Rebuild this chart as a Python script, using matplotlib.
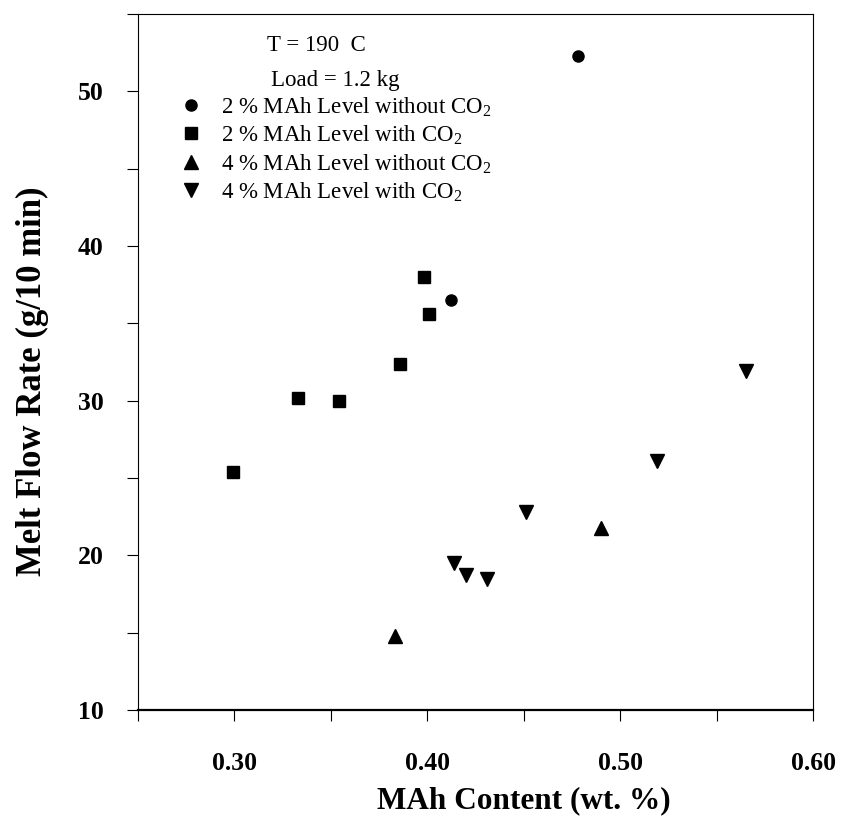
import numpy as np
import matplotlib
matplotlib.use("Agg")
import matplotlib.pyplot as plt
from matplotlib.ticker import MultipleLocator

plt.rcParams["font.family"] = ["Liberation Serif", "DejaVu Serif"]
plt.rcParams["mathtext.fontset"] = "custom"
plt.rcParams["mathtext.rm"] = "Liberation Serif"

# 2 % MAh level without CO2
mah_2_no_co2 = [0.412, 0.478]
mfr_2_no_co2 = [36.5, 52.3]

# 2 % MAh level with CO2
mah_2_co2 = [0.299, 0.333, 0.354, 0.386, 0.398, 0.401]
mfr_2_co2 = [25.4, 30.2, 30.0, 32.4, 38.0, 35.6]

# 4 % MAh level without CO2
mah_4_no_co2 = [0.383, 0.490]
mfr_4_no_co2 = [14.8, 21.8]

# 4 % MAh level with CO2
mah_4_co2 = [0.414, 0.420, 0.431, 0.451, 0.519, 0.565]
mfr_4_co2 = [19.5, 18.7, 18.5, 22.8, 26.1, 31.9]

labels = ["2 % MAh Level without CO$_\\mathrm{2}$",
          "2 % MAh Level with CO$_\\mathrm{2}$",
          "4 % MAh Level without CO$_\\mathrm{2}$",
          "4 % MAh Level with CO$_\\mathrm{2}$"]

x_ticks = [0.30, 0.40, 0.50, 0.60]
y_ticks = [10, 20, 30, 40, 50]

fig = plt.figure(figsize=(8.47, 8.19), dpi=100)
ax = fig.add_axes([0.163, 0.133, 0.797, 0.850])

ax.plot(mah_2_no_co2, mfr_2_no_co2, "o", color="black", ms=8, label=labels[0])
ax.plot(mah_2_co2, mfr_2_co2, "s", color="black", ms=8, label=labels[1])
ax.plot(mah_4_no_co2, mfr_4_no_co2, "^", color="black", ms=9.5, label=labels[2])
ax.plot(mah_4_co2, mfr_4_co2, "v", color="black", ms=9.5, label=labels[3])

ax.set_xlim(0.25, 0.60)
ax.set_ylim(10, 55)

# labelled ticks every 0.1 / 10, plain ticks in between
ax.xaxis.set_minor_locator(MultipleLocator(0.05))
ax.yaxis.set_minor_locator(MultipleLocator(5))
ax.set_xticks(x_ticks)
ax.set_xticklabels([f"{v:.2f}" for v in x_ticks])
ax.set_yticks(y_ticks)
ax.set_yticklabels([str(v) for v in y_ticks])

ax.tick_params(which="both", direction="out", length=8, width=0.8, top=False, right=False)
ax.tick_params(axis="x", which="major", pad=22, labelsize=18.5)
ax.tick_params(axis="y", which="major", pad=17, labelsize=18.5)
for lab in ax.get_xticklabels() + ax.get_yticklabels():
    lab.set_fontweight("bold")

for side in ["top", "right", "left"]:
    ax.spines[side].set_linewidth(0.8)
ax.spines["bottom"].set_linewidth(1.6)

ax.set_xlabel("MAh Content (wt. %)", fontsize=22.5, fontweight="bold")
ax.xaxis.set_label_coords(0.571, -0.11)
ax.set_ylabel("Melt Flow Rate (g/10 min)", fontsize=25, fontweight="bold")
ax.yaxis.set_label_coords(-0.132, 0.473)

ax.text(0.191, 0.955, "T = 190  C", transform=ax.transAxes, fontsize=16.5, va="center")
ax.text(0.197, 0.905, "Load = 1.2 kg", transform=ax.transAxes, fontsize=16.5, va="center")

ax.legend(loc="upper left", bbox_to_anchor=(0.062, 0.884), frameon=False, fontsize=16.5,
          handlelength=1.0, handletextpad=0.8, labelspacing=0.2, borderpad=0,
          borderaxespad=0, numpoints=1)

fig.savefig("out.png", dpi=100)
